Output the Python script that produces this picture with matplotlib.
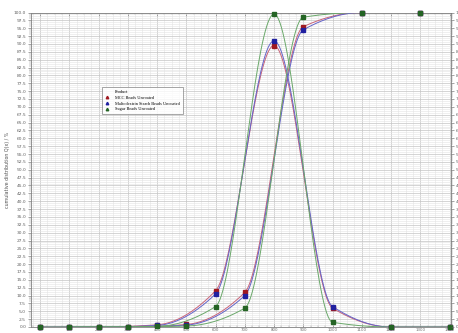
import numpy as np
import matplotlib.pyplot as plt
from matplotlib.lines import Line2D
from matplotlib.ticker import MultipleLocator, FormatStrFormatter

# size classes of the peaked (density) curves and the cumulative curves
size_peak = np.arange(0, 1500, 200)
size_cum = np.arange(100, 1400, 200)

# peaked distribution curves
mcc_peak = [0, 0, 0.7, 11.5, 89.5, 6, 0, 0]
malto_peak = [0, 0, 0.5, 10.5, 91, 6.5, 0, 0]
sugar_peak = [0, 0, 0.2, 6.5, 99.5, 1.5, 0, 0]

# cumulative curves
mcc_cum = [0, 0, 0.8, 11, 95.5, 100, 100]
malto_cum = [0, 0, 0.6, 10, 94.5, 100, 100]
sugar_cum = [0, 0, 0.3, 6, 98.5, 100, 100]

labels = ["MCC Beads Uncoated", "Maltodextrin Starch Beads Uncoated",
          "Sugar Beads Uncoated"]
line_colors = ["#c86478", "#6464c8", "#6aa86a"]
marker_colors = ["#a01820", "#2020a0", "#246424"]


def smooth(x, y, n=40):
    # monotone piecewise cubic (Fritsch-Carlson) through the points
    x = np.asarray(x, float)
    y = np.asarray(y, float)
    h = np.diff(x)
    delta = np.diff(y) / h
    d = np.zeros_like(y)
    for k in range(1, len(y) - 1):
        if delta[k - 1] * delta[k] > 0:
            w1 = 2 * h[k] + h[k - 1]
            w2 = h[k] + 2 * h[k - 1]
            d[k] = (w1 + w2) / (w1 / delta[k - 1] + w2 / delta[k])
    d[0] = delta[0]
    d[-1] = delta[-1]
    xs, ys = [], []
    t = np.linspace(0, 1, n, endpoint=False)
    for i in range(len(y) - 1):
        h00 = 2 * t ** 3 - 3 * t ** 2 + 1
        h10 = t ** 3 - 2 * t ** 2 + t
        h01 = -2 * t ** 3 + 3 * t ** 2
        h11 = t ** 3 - t ** 2
        ys.append(h00 * y[i] + h10 * h[i] * d[i] + h01 * y[i + 1]
                  + h11 * h[i] * d[i + 1])
        xs.append(x[i] + h[i] * t)
    xs.append([x[-1]])
    ys.append([y[-1]])
    return np.concatenate(xs), np.concatenate(ys)


fig = plt.figure(figsize=(4.58, 3.33), dpi=100)
ax = fig.add_axes([31 / 458, 6 / 333, 420 / 458, 314.5 / 333])

ax.set_xlim(-31, 1405)
ax.set_ylim(0, 100)

# grid
ax.xaxis.set_major_locator(MultipleLocator(100))
ax.xaxis.set_minor_locator(MultipleLocator(25))
ax.yaxis.set_major_locator(MultipleLocator(2.5))
ax.yaxis.set_minor_locator(MultipleLocator(0.625))
ax.grid(which="minor", color="#e4e4e4", lw=0.4)
ax.grid(which="major", color="#c4c4c4", lw=0.5)
ax.set_axisbelow(True)

series = [(mcc_peak, mcc_cum), (malto_peak, malto_cum), (sugar_peak, sugar_cum)]
for (pk, cm), lc in zip(series, line_colors):
    for xs, vals in ((size_peak, pk), (size_cum, cm)):
        sx, sy = smooth(xs, vals)
        ax.plot(sx, sy, color=lc, lw=0.7, zorder=3)
for (pk, cm), mc in zip(series, marker_colors):
    for xs, vals in ((size_peak, pk), (size_cum, cm)):
        ax.plot(xs, vals, ls="none", marker="s", ms=2.2, color=mc,
                mec=mc, zorder=4, clip_on=False)

ax.yaxis.set_major_formatter(FormatStrFormatter("%.1f"))
ax.tick_params(axis="y", which="major", labelsize=3.2, length=2.5, width=0.4,
               colors="#606060", pad=1)
ax.tick_params(axis="y", which="minor", length=1.2, width=0.3, colors="#808080")
ax.tick_params(axis="x", which="major", labelsize=2.8, length=2.5, width=0.4,
               colors="#707070", pad=0.6, top=True, direction="in")
ax.tick_params(axis="x", which="minor", length=1.5, width=0.3,
               colors="#808080", top=True, direction="in")
ticks = np.arange(0, 1500, 100)
ax.set_xticks(ticks)
ax.set_xticklabels([f"{v:.0f}" for v in ticks])
for s in ax.spines.values():
    s.set_color("#808080")
    s.set_linewidth(0.6)

ax.set_ylabel("cumulative distribution Q(x) / %", fontsize=3.4,
              color="#505050", labelpad=3)

# right-hand axis
ax2 = ax.twinx()
ax2.set_ylim(0, 100)
ax2.yaxis.set_major_locator(MultipleLocator(2.5))
ax2.yaxis.set_minor_locator(MultipleLocator(0.625))
ax2.yaxis.set_major_formatter(FormatStrFormatter("%.1f"))
ax2.tick_params(axis="y", which="major", labelsize=3.2, length=2.5, width=0.4,
                colors="#606060", pad=1)
ax2.tick_params(axis="y", which="minor", length=1.2, width=0.3, colors="#808080")
for s in ax2.spines.values():
    s.set_visible(False)

handles = [Line2D([], [], ls="none")] + [
    Line2D([], [], ls="none", marker="^", ms=1.8, color=mc) for mc in marker_colors]
leg = ax.legend(handles, ["Product"] + labels, loc="upper left",
                bbox_to_anchor=(102 / 458, 1 - 87 / 333),
                bbox_transform=fig.transFigure,
                prop={"family": "Liberation Serif", "size": 3.2},
                frameon=True, fancybox=False, shadow=False, handlelength=1.0,
                handletextpad=1.3, borderpad=0.7, labelspacing=0.35,
                borderaxespad=0)
leg.get_frame().set_edgecolor("#808080")
leg.get_frame().set_linewidth(0.6)
leg.set_zorder(5)

fig.savefig("out.png", dpi=100)
